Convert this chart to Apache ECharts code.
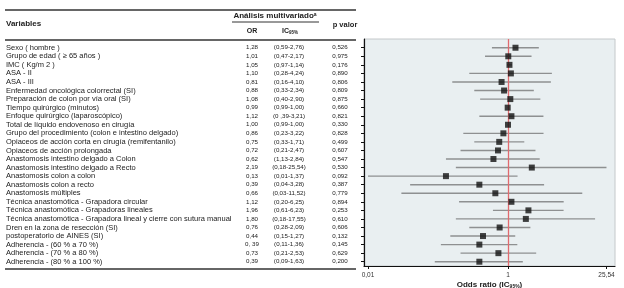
<!DOCTYPE html>
<html>
<head>
<meta charset="utf-8">
<script src="https://cdn.jsdelivr.net/npm/echarts@6/dist/echarts.min.js"></script>
<style>
html, body { margin: 0; padding: 0; background: #fff; }
#main { width: 624px; height: 288px; }
</style>
</head>
<body>
<div id="main"></div>
<script>
var variables = [
  'Sexo ( hombre )',
  'Grupo de edad ( \u2265 65 años )',
  'IMC ( Kg/m 2 )',
  'ASA - II',
  'ASA - III',
  'Enfermedad oncológica colorrectal (SI)',
  'Preparación de colon por vía oral (SI)',
  'Tiempo quirúrgico (minutos)',
  'Enfoque quirúrgico (laparoscópico)',
  'Total de líquido endovenoso en cirugía',
  'Grupo del procedimiento (colon e intestino delgado)',
  'Opiaceos de acción corta en cirugía (remifentanilo)',
  'Opiaceos de acción prolongada',
  'Anastomosis intestino delgado a Colon',
  'Anastomosis intestino delgado a Recto',
  'Anastomosis colon a colon',
  'Anastomosis colon a recto',
  'Anastomosis múltiples',
  'Técnica anastomótica - Grapadora circular',
  'Técnica anastomótica - Grapadoras lineales',
  'Técnica anastomótica - Grapadora lineal y cierre con sutura manual',
  'Dren en la zona de resección (SI)',
  'postoperatorio de AINES (SI)',
  'Adherencia - (60 % a 70 %)',
  'Adherencia - (70 % a 80 %)',
  'Adherencia - (80 % a 100 %)'
];
var orText = ['1,28', '1,01', '1,05', '1,10', '0,81', '0,88', '1,08', '0,99', '1,12', '1,00', '0,86', '0,75', '0,72',
  '0,62', '2,19', '0,13', '0,39', '0,66', '1,12', '1,96', '1,80', '0,76', '0,44', '0, 39', '0,73', '0,39'];
var icText = ['(0,59-2,76)', '(0,47-2,17)', '(0,97-1,14)', '(0,28-4,24)', '(0,16-4,10)', '(0,33-2,34)', '(0,40-2,90)',
  '(0,99-1,00)', '(0 ,39-3,21)', '(0,99-1,00)', '(0,23-3,22)', '(0,33-1,71)', '(0,21-2,47)', '(1,13-2,84)',
  '(0,18-25,54)', '(0,01-1,37)', '(0,04-3,28)', '(0,03-11,52)', '(0,20-6,25)', '(0,61-6,23)', '(0,18-17,55)',
  '(0,28-2,09)', '(0,15-1,27)', '(0,11-1,36)', '(0,21-2,53)', '(0,09-1,63)'];
var pText = ['0,526', '0,975', '0,176', '0,890', '0,806', '0,809', '0,875', '0,660', '0,821', '0,330', '0,828', '0,499',
  '0,607', '0,547', '0,530', '0,092', '0,387', '0,779', '0,894', '0,253', '0,610', '0,606', '0,132', '0,145', '0,629', '0,200'];

// valores dibujados en el forest plot
var orValue = [1.28, 1.01, 1.05, 1.10, 0.81, 0.88, 1.08, 0.99, 1.12, 1.00, 0.86, 0.75, 0.72,
  0.62, 2.19, 0.13, 0.39, 0.66, 1.12, 1.96, 1.80, 0.76, 0.44, 0.39, 0.73, 0.39];
var ciLow = [0.59, 0.47, 0.97, 0.28, 0.16, 0.33, 0.40, 0.99, 0.39, 0.99, 0.23, 0.33, 0.21,
  0.13, 0.18, 0.01, 0.04, 0.03, 0.20, 0.61, 0.18, 0.28, 0.15, 0.11, 0.21, 0.09];
var ciHigh = [2.76, 2.17, 1.14, 4.24, 4.10, 2.34, 2.90, 1.00, 3.21, 1.00, 3.22, 1.71, 2.47,
  2.84, 25.54, 1.37, 3.28, 11.52, 6.25, 6.23, 17.55, 2.09, 1.27, 1.36, 2.53, 1.63];

var xTickValues = [0.01, 1, 25.54];
var xTickLabels = ['0,01', '1', '25,54'];

var chart = echarts.init(document.getElementById('main'));

var rows = variables.map(function (v, i) { return i; });
var yMin = -1.02, yMax = 25.5;
var font = 'Liberation Sans, Arial, sans-serif';

function lg(v) { return Math.log10(v); }

function textAxis(list, margin, align, size) {
  return {
    type: 'value', position: 'left', inverse: true, min: yMin, max: yMax,
    axisLine: { show: false }, axisTick: { show: false }, splitLine: { show: false },
    axisLabel: {
      customValues: rows, margin: margin, align: align, fontSize: size, color: '#222', fontFamily: font,
      formatter: function (v) { return list[Math.round(v)]; }
    }
  };
}

var ciData = rows.map(function (i) { return [lg(ciLow[i]), lg(ciHigh[i]), i]; });
var orData = rows.map(function (i) { return [lg(orValue[i]), i]; });

option = {
  animation: false,
  textStyle: { fontFamily: font },
  grid: {
    left: 364, right: 9, top: 39, bottom: 22,
    show: true, backgroundColor: '#e9eff1', borderColor: '#c4c8ca', borderWidth: 1,
    outerBoundsMode: 'none'
  },
  xAxis: {
    type: 'value', min: -2.057, max: 1.529,
    axisLine: { onZero: false, lineStyle: { color: '#111', width: 1.2 } },
    axisTick: { customValues: xTickValues.map(lg), length: 3, lineStyle: { color: '#111' } },
    splitLine: { show: false },
    axisLabel: {
      customValues: xTickValues.map(lg), fontSize: 6.5, color: '#333', margin: 6,
      formatter: function (v) {
        for (var k = 0; k < xTickValues.length; k++) {
          if (Math.abs(lg(xTickValues[k]) - v) < 1e-6) return xTickLabels[k];
        }
        return '';
      }
    },
    name: 'Odds ratio (IC{s|95%})', nameLocation: 'middle', nameGap: 15, nameMoveOverlap: false,
    nameTextStyle: {
      fontSize: 8, fontWeight: 'bold', color: '#222',
      rich: { s: { fontSize: 5, fontWeight: 'bold', color: '#222', padding: [3, 0, 0, 0] } }
    }
  },
  yAxis: [
    {
      type: 'value', inverse: true, min: yMin, max: yMax,
      axisLine: { onZero: false, lineStyle: { color: '#111', width: 1.2 } },
      axisTick: { customValues: rows, length: 3, lineStyle: { color: '#111' } },
      axisLabel: { show: false },
      splitLine: { show: false }
    },
    textAxis(variables, 358, 'left', 7.5),
    textAxis(orText, 112, 'center', 6.2),
    textAxis(icText, 75, 'center', 6.2),
    textAxis(pText, 24, 'center', 6.2)
  ],
  graphic: [
    { type: 'line', shape: { x1: 5, y1: 10, x2: 356, y2: 10 }, style: { stroke: '#333', lineWidth: 1.3 } },
    { type: 'line', shape: { x1: 232, y1: 22, x2: 319, y2: 22 }, style: { stroke: '#333', lineWidth: 1 } },
    { type: 'line', shape: { x1: 5, y1: 40, x2: 356, y2: 40 }, style: { stroke: '#333', lineWidth: 1.3 } },
    { type: 'line', shape: { x1: 5, y1: 269, x2: 356, y2: 269 }, style: { stroke: '#333', lineWidth: 1.3 } },
    { type: 'text', left: 6, top: 20, style: { text: 'Variables', font: 'bold 8px ' + font, fill: '#222' } },
    {
      type: 'text', x: 275, y: 16,
      style: {
        text: 'Análisis multivariado{s|a}', align: 'center', verticalAlign: 'middle',
        font: 'bold 8px ' + font, fill: '#222',
        rich: { s: { fontSize: 5, fontWeight: 'bold', verticalAlign: 'top', fill: '#222' } }
      }
    },
    { type: 'text', x: 252, y: 31, style: { text: 'OR', align: 'center', verticalAlign: 'middle', font: 'bold 7px ' + font, fill: '#222' } },
    {
      type: 'text', x: 290, y: 31,
      style: {
        text: 'IC{s|95%}', align: 'center', verticalAlign: 'middle', font: 'bold 7px ' + font, fill: '#222',
        rich: { s: { fontSize: 4.5, fontWeight: 'bold', fill: '#222', padding: [3, 0, 0, 0] } }
      }
    },
    { type: 'text', x: 345, y: 25, style: { text: 'p valor', align: 'center', verticalAlign: 'middle', font: 'bold 7.5px ' + font, fill: '#222' } }
  ],
  series: [
    {
      type: 'custom',
      yAxisIndex: 0,
      data: ciData,
      encode: { x: [0, 1], y: 2 },
      renderItem: function (params, api) {
        var a = api.coord([api.value(0), api.value(2)]);
        var b = api.coord([api.value(1), api.value(2)]);
        return {
          type: 'line',
          shape: { x1: a[0], y1: a[1], x2: b[0], y2: b[1] },
          style: { stroke: '#8e9091', lineWidth: 1.4 }
        };
      },
      z: 2
    },
    {
      type: 'scatter',
      yAxisIndex: 0,
      data: orData,
      symbol: 'rect',
      symbolSize: 6,
      itemStyle: { color: '#111' },
      z: 4,
      markLine: {
        silent: true, symbol: 'none', label: { show: false },
        lineStyle: { color: '#e06a6e', width: 1.3, type: 'solid' },
        data: [{ xAxis: 0 }],
        z: 3
      }
    }
  ]
};

chart.setOption(option);
</script>
</body>
</html>
